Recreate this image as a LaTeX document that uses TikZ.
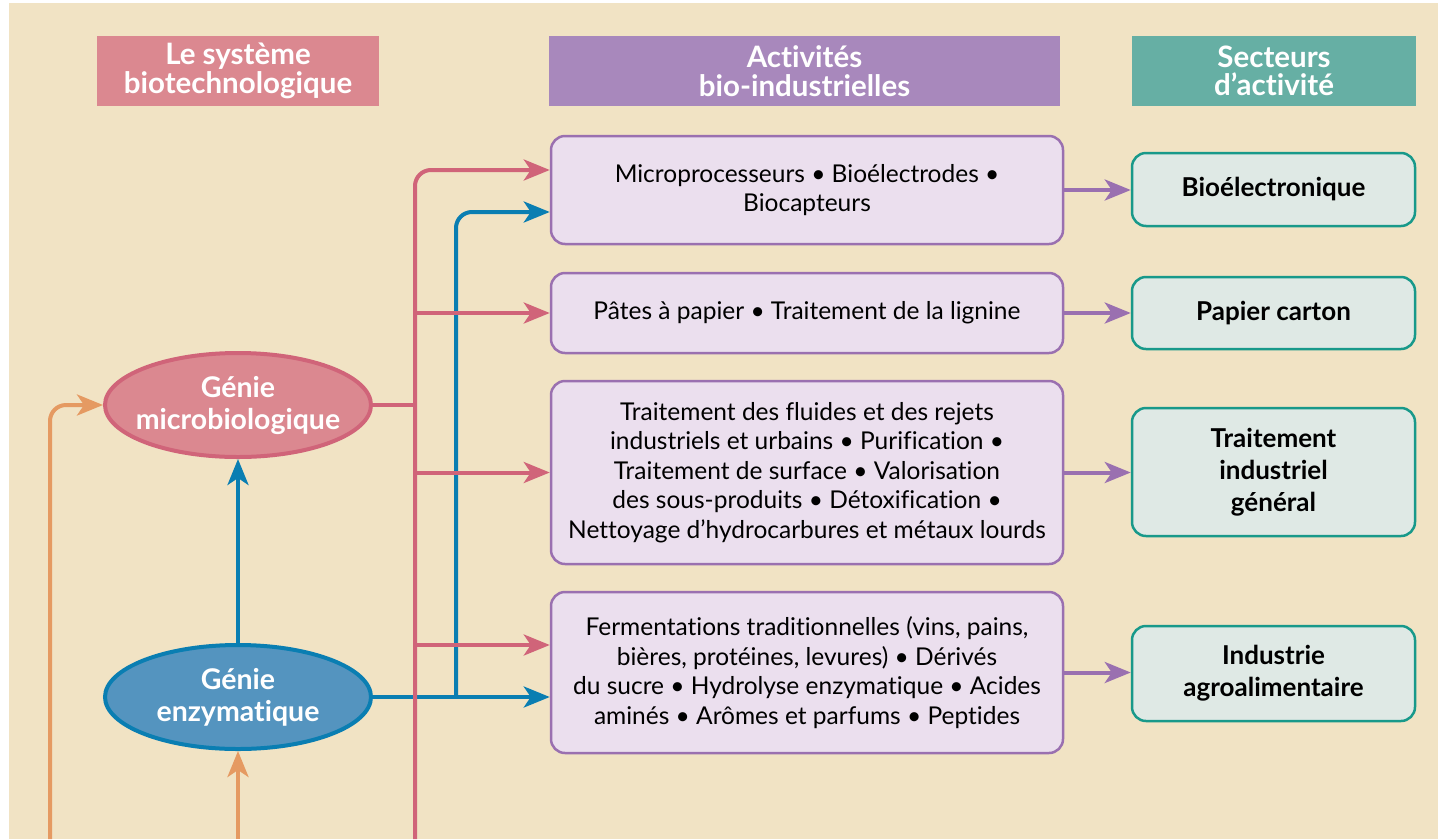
\documentclass[tikz,border=0pt]{standalone}
\usepackage{fontspec}
\setmainfont{Lato}[Ligatures=NoCommon]
\usetikzlibrary{shapes.geometric,arrows.meta}

\definecolor{fond}{HTML}{F1E3C4}
\definecolor{rose}{HTML}{DB8890}
\definecolor{rosefonce}{HTML}{D06479}
\definecolor{violet}{HTML}{A888BC}
\definecolor{violetfonce}{HTML}{9A70B0}
\definecolor{violetclair}{HTML}{EBDFEE}
\definecolor{vert}{HTML}{66AFA4}
\definecolor{vertfonce}{HTML}{18998A}
\definecolor{vertclair}{HTML}{DFE9E5}
\definecolor{bleu}{HTML}{5494BF}
\definecolor{bleufonce}{HTML}{0A7EB2}
\definecolor{orange}{HTML}{E59A62}

\begin{document}
\begin{tikzpicture}[x=1pt,y=-1pt,
    titre/.style={rectangle, text=white, font=\fontsize{29.5}{28.5}\selectfont\bfseries,
      align=center, minimum height=70pt, inner sep=0pt},
    genie/.style={ellipse, line width=4pt, text=white,
      font=\fontsize{28.5}{32}\selectfont\bfseries, align=center,
      minimum width=266pt, minimum height=104pt, inner xsep=-25pt, inner ysep=0pt},
    activite/.style={rectangle, rounded corners=14pt, draw=violetfonce, fill=violetclair,
      line width=2.5pt, minimum width=512pt, align=center, inner sep=0pt,
      font=\fontsize{24.5}{29.5}\selectfont},
    secteur/.style={rectangle, rounded corners=14pt, draw=vertfonce, fill=vertclair,
      line width=2.5pt, minimum width=283pt, align=center, inner sep=0pt,
      font=\fontsize{26}{32}\selectfont\bfseries},
    fleche/.style={line width=4pt, -{Stealth[length=26pt,width=21pt,inset=7pt]}},
    trait/.style={line width=4pt}]

  \useasboundingbox (0,0) rectangle (1438,839);
  \fill[white] (0,0) rectangle (1438,839);
  \fill[fond] (9,3) rectangle (1438,839);

  \node[titre, fill=rose, minimum width=282pt] (hSys) at (238,71) {Le système\\biotechnologique};
  \node[titre, fill=violet, minimum width=511pt] (hAct) at (804.5,71) {Activités\\bio-industrielles};
  \node[titre, fill=vert, minimum width=284pt] (hSec) at (1274,71) {Secteurs\\d’activité};

  \node[genie, draw=rosefonce, fill=rose] (gMicro) at (238,405) {Génie\\microbiologique};
  \node[genie, draw=bleufonce, fill=bleu] (gEnz) at (238,697) {Génie\\enzymatique};

  \node[activite, minimum height=108pt] (act1) at (807,190)
    {Microprocesseurs • Bioélectrodes •\\Biocapteurs};
  \node[activite, minimum height=80pt] (act2) at (807,313)
    {Pâtes à papier • Traitement de la lignine};
  \node[activite, minimum height=183pt] (act3) at (807,472.5)
    {Traitement des fluides et des rejets\\industriels et urbains • Purification •\\Traitement de surface • Valorisation\\des sous-produits • Détoxification •\\Nettoyage d’hydrocarbures et métaux lourds};
  \node[activite, minimum height=161pt] (act4) at (807,672.5)
    {Fermentations traditionnelles (vins, pains,\\bières, protéines, levures) • Dérivés\\du sucre • Hydrolyse enzymatique • Acides\\aminés • Arômes et parfums • Peptides};

  \node[secteur, minimum height=73pt] (sec1) at (1273.5,189.5) {Bioélectronique};
  \node[secteur, minimum height=72pt] (sec2) at (1273.5,313) {Papier carton};
  \node[secteur, minimum height=128pt] (sec3) at (1273.5,472) {Traitement\\industriel\\général};
  \node[secteur, minimum height=95pt] (sec4) at (1273.5,673.5) {Industrie\\agroalimentaire};

  \coordinate (roseBas) at (415,839);
  \coordinate (bleuNoeud) at (456,697);
  \coordinate (orangeBas) at (50,839);
  \coordinate (orangeBas2) at (238,839);
  \coordinate (act1haut) at ([yshift=20pt]act1.west);
  \coordinate (act1bas) at ([yshift=-22pt]act1.west);
  \coordinate (act4haut) at ([yshift=27.5pt]act4.west);

  % orange
  \draw[fleche, orange, rounded corners=16pt] (orangeBas) |- (gMicro.west);
  \draw[fleche, orange] (orangeBas2) -- (gEnz.south);

  % bleu
  \draw[fleche, bleufonce] (gEnz.north) -- (gMicro.south);
  \draw[fleche, bleufonce] (gEnz.east) -- (gEnz.east -| act4.west);
  \draw[fleche, bleufonce, rounded corners=16pt] (bleuNoeud) |- (act1bas);

  % rose
  \draw[trait, rosefonce] (gMicro.east) -- (gMicro.east -| roseBas);
  \draw[fleche, rosefonce, rounded corners=16pt] (roseBas) |- (act1haut);
  \draw[fleche, rosefonce] (roseBas |- act2.west) -- (act2.west);
  \draw[fleche, rosefonce] (roseBas |- act3.west) -- (act3.west);
  \draw[fleche, rosefonce] (roseBas |- act4haut) -- (act4haut);

  % violet
  \foreach \i in {1,2,3,4}
    \draw[fleche, violetfonce] (act\i.east) -- (act\i.east -| sec\i.west);
\end{tikzpicture}
\end{document}
